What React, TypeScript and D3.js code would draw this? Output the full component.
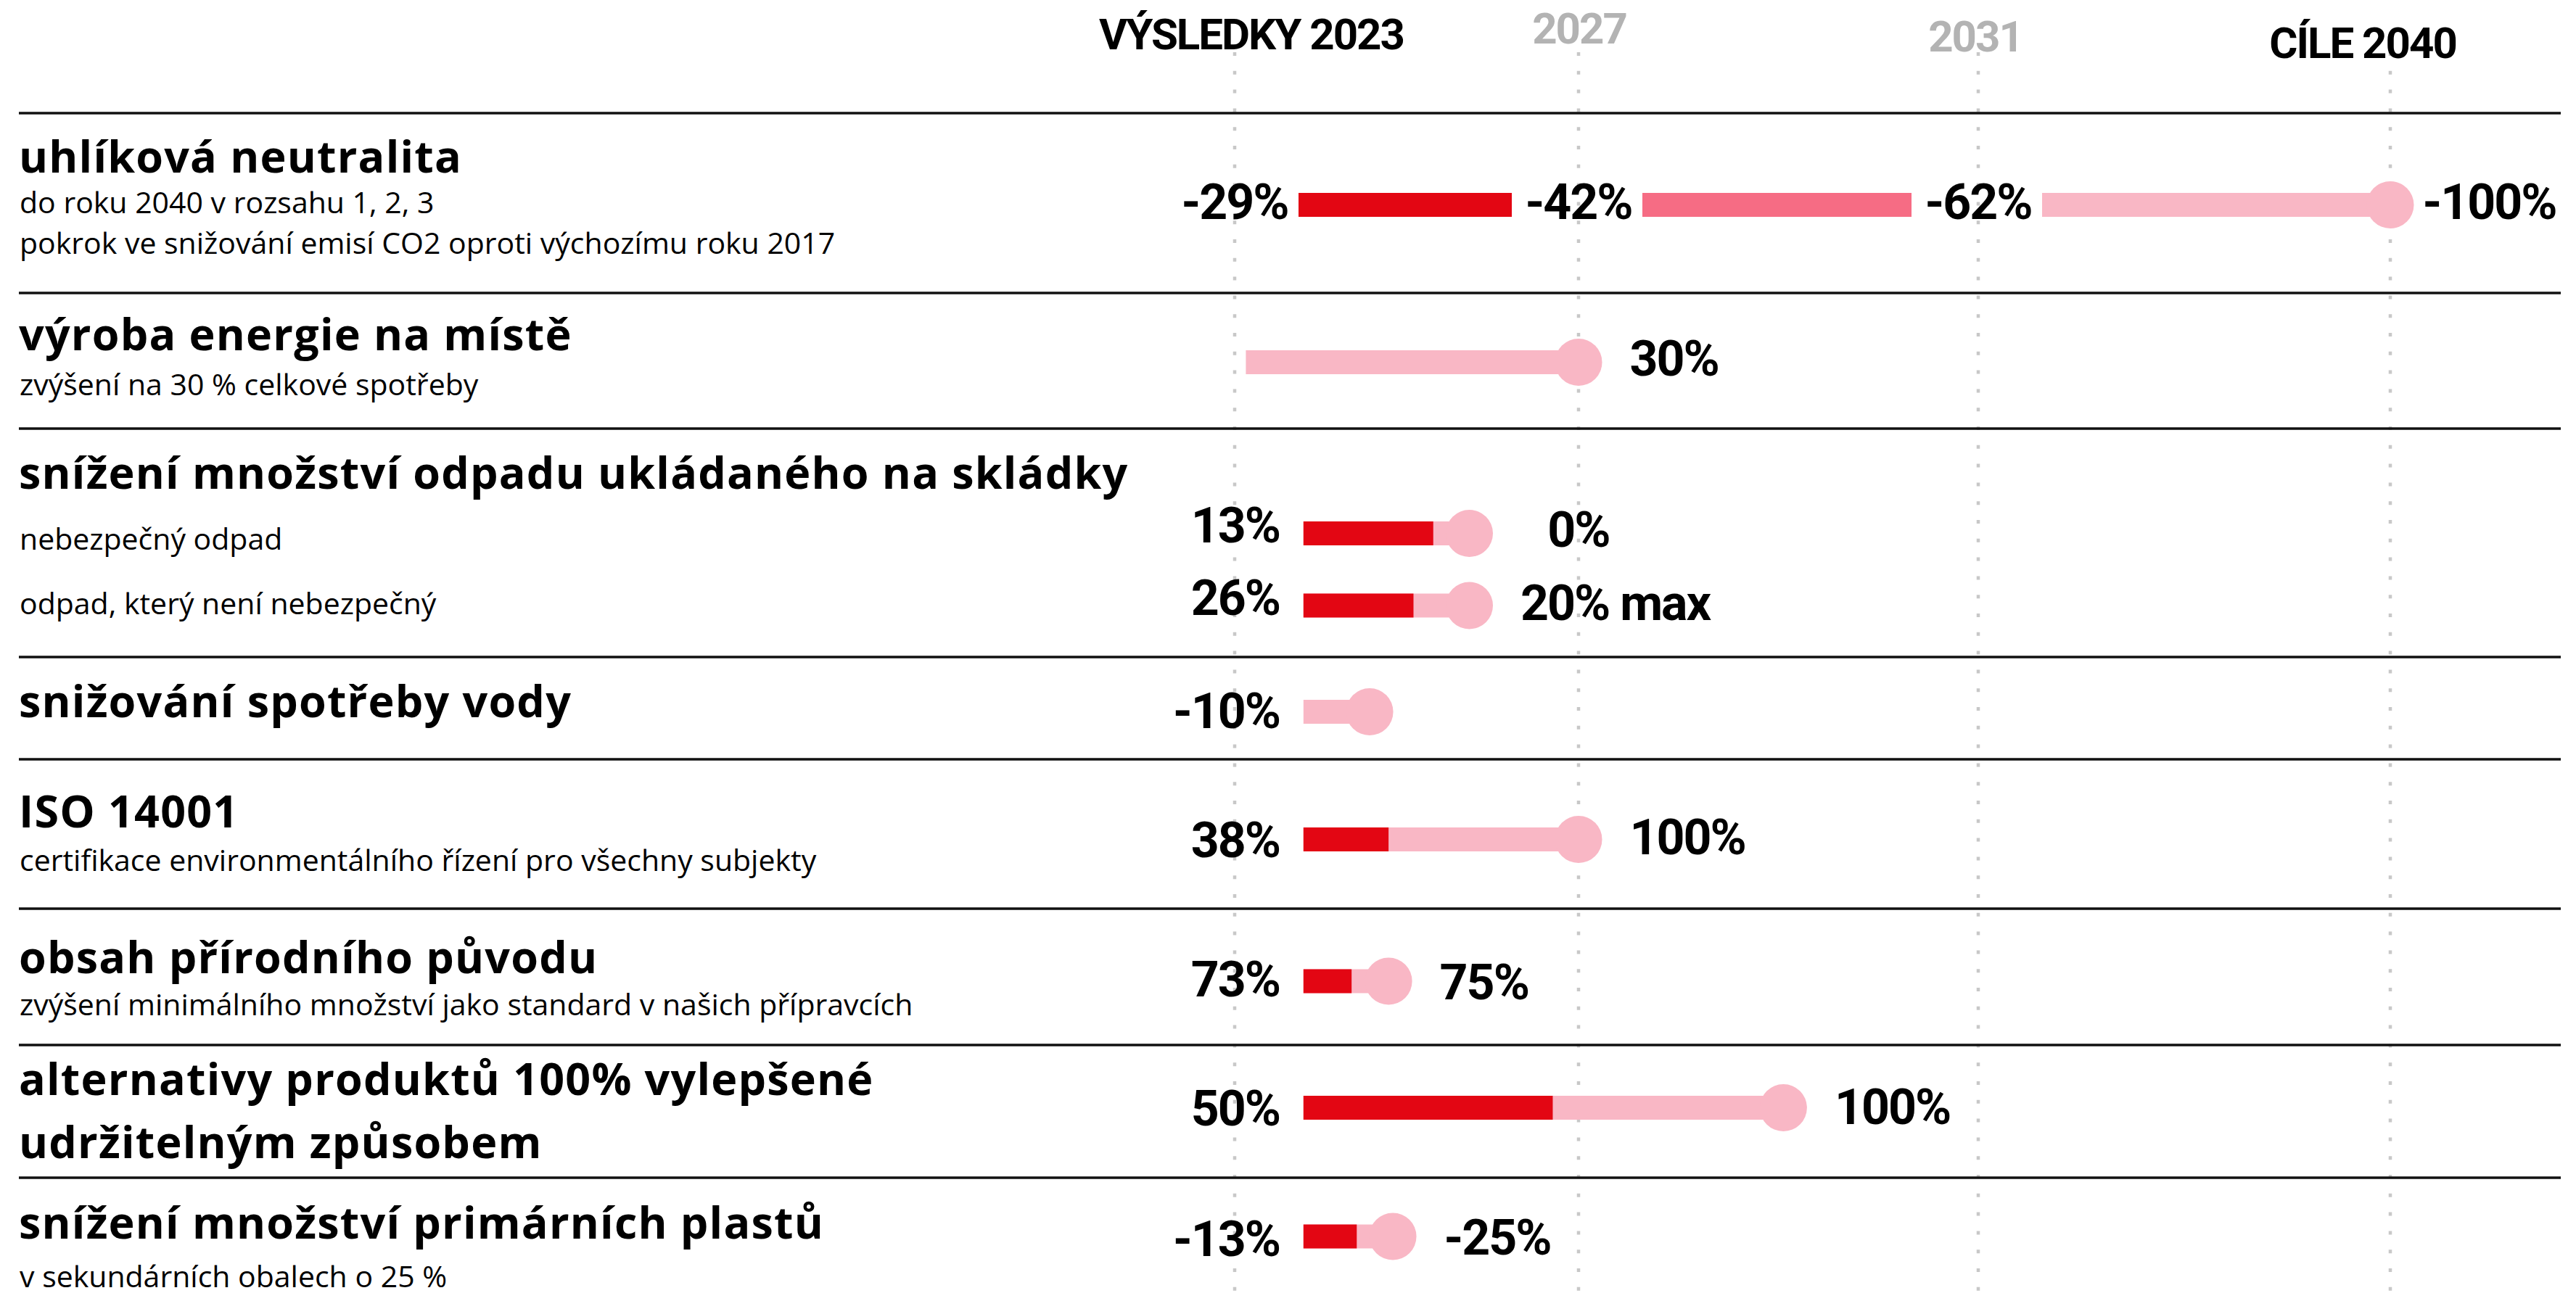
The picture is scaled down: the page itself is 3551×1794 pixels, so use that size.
import React, { useEffect } from "react";
import * as d3 from "d3";

const W = 3551;
const H = 1794;

// ---------- data ----------
const years = [2023, 2027, 2031, 2040];
const yearHeaders = ["VÝSLEDKY 2023", "2027", "2031", "CÍLE 2040"];
const yearHighlighted = [true, false, false, true];

const rowTitles = [
  ["uhlíková neutralita"],
  ["výroba energie na místě"],
  ["snížení množství odpadu ukládaného na skládky"],
  ["snižování spotřeby vody"],
  ["ISO 14001"],
  ["obsah přírodního původu"],
  ["alternativy produktů 100% vylepšené", "udržitelným způsobem"],
  ["snížení množství primárních plastů"],
];
const rowSubtitles = [
  ["do roku 2040 v rozsahu 1, 2, 3", "pokrok ve snižování emisí CO2 oproti výchozímu roku 2017"],
  ["zvýšení na 30 % celkové spotřeby"],
  [],
  [],
  ["certifikace environmentálního řízení pro všechny subjekty"],
  ["zvýšení minimálního množství jako standard v našich přípravcích"],
  [],
  ["v sekundárních obalech o 25 %"],
];
const wasteItems = ["nebezpečný odpad", "odpad, který není nebezpečný"];

// carbon neutrality milestones (one per year column)
const carbonValues = ["-29%", "-42%", "-62%", "-100%"];

// progress bars (row index, years along the time axis, labels)
const barRows = [1, 2, 2, 3, 4, 5, 6, 7];
const barStartYears = [2023.13, 2023.8, 2023.8, 2023.8, 2023.8, 2023.8, 2023.8, 2023.8];
const barCurrentYears = [null, 2025.31, 2025.08, null, 2024.79, 2024.36, 2026.7, 2024.42];
const barTargetYears = [2027, 2025.73, 2025.73, 2024.57, 2027, 2024.79, 2029.05, 2024.84];
const barCurrentLabels = [null, "13%", "26%", "-10%", "38%", "73%", "50%", "-13%"];
const barTargetLabels = ["30%", "0%", "20% max", null, "100%", "75%", "100%", "-25%"];

// ---------- layout ----------
const FIRST_RULE = 156;
const rowHeights = [248, 187, 315, 141, 206, 188, 183, 170];
const titleBaselines = [82, 79, 83, 83, 94, 89, 69, 84];
const titleLineGap = 87;
const subtitleBaselines = [138, 141, 0, 0, 154, 147, 0, 151];
const subtitleLineGap = 56;
const barOffsets = [95.5, 144.5, 244, 75.5, 110.5, 100, 86.5, 81];
const carbonOffset = 126.5;
const wasteLabelDy = [22.5, 12];
const leftLabelDy = [0, -12, -12, -2, 0, -4, 0, 2];
const rightLabelDy = [-6, -6, -5, 0, -4, 0, -2, 0];

const RED = "#e30613";
const MID_PINK = "#f66c84";
const LIGHT_PINK = "#f9b7c5";
const BAR_H = 33;
const DOT_R = 32.5;

const TEXT_FONT = "'Open Sans', 'Noto Sans', sans-serif";
const NUM_FONT = "Roboto, 'Noto Sans', sans-serif";

export default function App() {
  useEffect(() => {
    document.body.style.margin = "0";
    document.body.style.background = "#fff";
  }, []);

  const x = d3.scaleLinear().domain(years).range([1702, 2176, 2727, 3295]);
  const rowTops = d3.cumsum([FIRST_RULE, ...rowHeights.slice(0, -1)]);
  const ruleYs = Array.from(rowTops);

  const headerDx = [23, 1, -4, -38];
  const headerBaseline = [68, 60, 71, 80];

  const carbonY = rowTops[0] + carbonOffset;
  const segGapStart = 88;
  const segGapEnd = 92;
  const carbonColors = [RED, MID_PINK, LIGHT_PINK];

  const numProps = {
    fontFamily: NUM_FONT,
    fontWeight: 700,
    fontSize: 68,
    letterSpacing: -2,
    fill: "#000",
  };

  return (
    <svg width={W} height={H} viewBox={`0 0 ${W} ${H}`} style={{ display: "block", background: "#fff" }}>
      {/* dotted year lines */}
      {years.map((yr, i) => (
        <line
          key={"v" + i}
          x1={x(yr)}
          x2={x(yr)}
          y1={72}
          y2={H}
          stroke="#c8c8c8"
          strokeWidth={4.5}
          strokeDasharray="5 20.8"
        />
      ))}

      {/* headers */}
      {yearHeaders.map((t, i) => (
        <text
          key={"h" + i}
          x={x(years[i]) + headerDx[i]}
          y={headerBaseline[i]}
          textAnchor="middle"
          fontFamily={NUM_FONT}
          fontWeight={700}
          fontSize={60}
          letterSpacing={-2}
          fill={yearHighlighted[i] ? "#000" : "#b3b3b3"}
        >
          {t}
        </text>
      ))}

      {/* separators */}
      {ruleYs.map((y, i) => (
        <line key={"r" + i} x1={26} x2={3530} y1={y} y2={y} stroke="#111" strokeWidth={3.5} />
      ))}

      {/* row titles and subtitles */}
      {rowTitles.map((lines, r) => (
        <g key={"t" + r}>
          {lines.map((ln, j) => (
            <text
              key={j}
              x={26}
              y={rowTops[r] + titleBaselines[r] + j * titleLineGap}
              fontFamily={TEXT_FONT}
              fontWeight={700}
              fontSize={61}
              letterSpacing={1.2}
              fill="#000"
            >
              {ln}
            </text>
          ))}
          {rowSubtitles[r].map((ln, j) => (
            <text
              key={"s" + j}
              x={27}
              y={rowTops[r] + subtitleBaselines[r] + j * subtitleLineGap}
              fontFamily={TEXT_FONT}
              fontWeight={400}
              fontSize={41}
              fill="#000"
            >
              {ln}
            </text>
          ))}
        </g>
      ))}

      {/* waste sub items */}
      {wasteItems.map((t, j) => (
        <text
          key={"w" + j}
          x={27}
          y={rowTops[2] + barOffsets[1 + j] + wasteLabelDy[j]}
          fontFamily={TEXT_FONT}
          fontWeight={400}
          fontSize={41}
          fill="#000"
        >
          {t}
        </text>
      ))}

      {/* carbon neutrality milestones */}
      <g>
        {carbonColors.map((c, i) => {
          const x0 = x(years[i]) + segGapStart;
          const x1 = i === carbonColors.length - 1 ? x(years[i + 1]) : x(years[i + 1]) - segGapEnd;
          return <rect key={"c" + i} x={x0} y={carbonY - BAR_H / 2} width={x1 - x0} height={BAR_H} fill={c} />;
        })}
        <circle cx={x(years[3])} cy={carbonY} r={DOT_R} fill={LIGHT_PINK} />
        {carbonValues.map((v, i) => {
          const last = i === carbonValues.length - 1;
          return (
            <text
              key={"cv" + i}
              x={last ? x(years[i]) + DOT_R + 12 : x(years[i])}
              y={carbonY + 24.5 - 5}
              textAnchor={last ? "start" : "middle"}
              {...numProps}
            >
              {v}
            </text>
          );
        })}
      </g>

      {/* progress bars */}
      {barRows.map((r, i) => {
        const cy = rowTops[r] + barOffsets[i];
        const xs = x(barStartYears[i]);
        const xt = x(barTargetYears[i]);
        const cur = barCurrentYears[i];
        const xc = cur == null ? xs : x(cur);
        const tl = barTargetLabels[i];
        const cl = barCurrentLabels[i];
        const centeredOnColumn = i === 1;
        return (
          <g key={"b" + i}>
            <rect x={xs} y={cy - BAR_H / 2} width={xt - xs} height={BAR_H} fill={LIGHT_PINK} />
            {cur != null && <rect x={xs} y={cy - BAR_H / 2} width={xc - xs} height={BAR_H} fill={RED} />}
            <circle cx={xt} cy={cy} r={DOT_R} fill={LIGHT_PINK} />
            {cl && (
              <text x={x(years[0]) + 62} y={cy + 24.5 + leftLabelDy[i]} textAnchor="end" {...numProps}>
                {cl}
              </text>
            )}
            {tl && (
              <text
                x={centeredOnColumn ? x(years[1]) : xt + DOT_R + 38}
                y={cy + 24.5 + rightLabelDy[i]}
                textAnchor={centeredOnColumn ? "middle" : "start"}
                {...numProps}
              >
                {tl}
              </text>
            )}
          </g>
        );
      })}
    </svg>
  );
}
